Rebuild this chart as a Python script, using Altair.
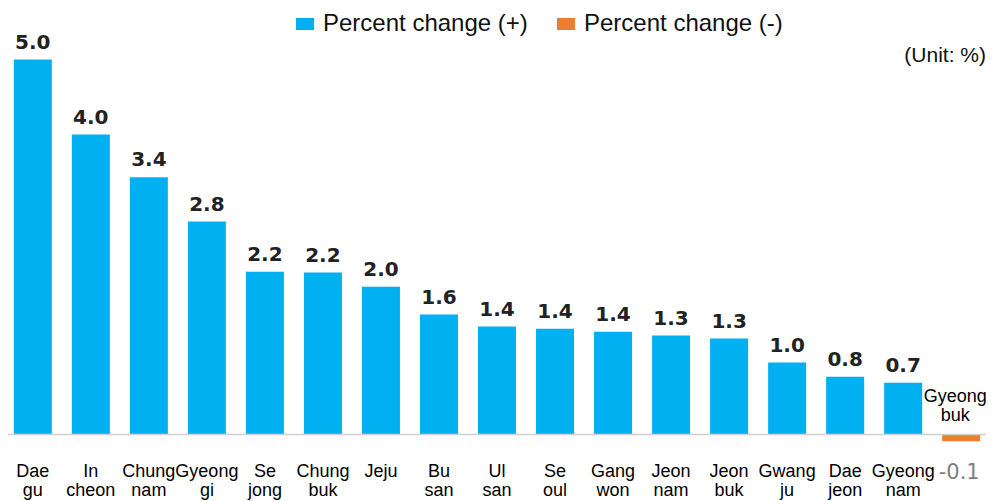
import altair as alt
import pandas as pd

# ---- data ----
regions = ["Dae\ngu", "In\ncheon", "Chung\nnam", "Gyeong\ngi", "Se\njong", "Chung\nbuk",
           "Jeju", "Bu\nsan", "Ul\nsan", "Se\noul", "Gang\nwon", "Jeon\nnam", "Jeon\nbuk",
           "Gwang\nju", "Dae\njeon", "Gyeong\nnam", "Gyeong\nbuk"]
values = [5.0, 4.0, 3.43, 2.84, 2.17, 2.16, 1.97, 1.60, 1.44, 1.41, 1.37, 1.32, 1.28,
          0.96, 0.77, 0.69, -0.09]
value_labels = ["5.0", "4.0", "3.4", "2.8", "2.2", "2.2", "2.0", "1.6", "1.4", "1.4", "1.4",
                "1.3", "1.3", "1.0", "0.8", "0.7", "-0.1"]
series_names = ["Percent change (+)", "Percent change (-)"]
series_colors = ["#00B0F0", "#ED7D31"]
unit_text = "(Unit: %)"

df = pd.DataFrame({
    "region": regions,
    "value": values,
    "label": value_labels,
    "series": [series_names[0] if v >= 0 else series_names[1] for v in values],
    "zero": [0.0] * len(values),
})

W, H = 978, 450
x_enc = alt.X("region:N", sort=regions, axis=None,
              scale=alt.Scale(paddingInner=0.345, paddingOuter=0.1))
y_scale = alt.Scale(domain=[-0.5, 5.5], nice=False, zero=False)

base = alt.Chart(df)

bars = base.mark_bar().encode(
    x=x_enc,
    y=alt.Y("value:Q", scale=y_scale, axis=None),
    y2="zero:Q",
    color=alt.Color("series:N",
                    scale=alt.Scale(domain=series_names, range=series_colors),
                    legend=alt.Legend(title=None, orient="none", legendX=285, legendY=-10,
                                      direction="horizontal",
                                      symbolType="M-1,-0.67H1V0.67H-1Z",
                                      symbolSize=324, symbolStrokeWidth=0,
                                      labelFont="Liberation Sans", labelFontSize=24,
                                      labelColor="#111111", labelOffset=6, labelLimit=0,
                                      columnPadding=26, padding=0)),
)

axis_line = base.mark_rule(color="#d0d0d0", strokeWidth=1.5).encode(
    x=alt.value(0), x2=alt.value(W), y=alt.Y("zero:Q", scale=y_scale)
).transform_filter("datum.value == 5.0")

pos_vals = base.transform_filter("datum.value >= 0").mark_text(
    font="DejaVu Sans", fontWeight="bold", fontSize=20, color="#222222",
    baseline="alphabetic", dy=-11
).encode(x=x_enc, y=alt.Y("value:Q", scale=y_scale), text="label:N")

neg_vals = base.transform_filter("datum.value < 0").mark_text(
    font="DejaVu Sans", fontSize=21, color="#7f7f7f",
    baseline="alphabetic", dy=38, dx=-2
).encode(x=x_enc, y=alt.Y("value:Q", scale=y_scale), text="label:N")

pos_names = base.transform_filter("datum.value >= 0").mark_text(
    font="Liberation Sans", fontSize=18, color="#000000", lineBreak="\n",
    lineHeight=19, baseline="alphabetic", dy=42
).encode(x=x_enc, y=alt.Y("zero:Q", scale=y_scale), text="region:N")

neg_names = base.transform_filter("datum.value < 0").mark_text(
    font="Liberation Sans", fontSize=18, color="#000000", lineBreak="\n",
    lineHeight=19, baseline="alphabetic", dy=-33, dx=-6
).encode(x=x_enc, y=alt.Y("zero:Q", scale=y_scale), text="region:N")

unit = alt.Chart(pd.DataFrame({"t": [unit_text]})).mark_text(
    font="Liberation Sans", fontSize=21, color="#111111", align="right",
    baseline="alphabetic"
).encode(x=alt.value(W), y=alt.value(40), text="t:N")

chart = alt.layer(bars, axis_line, pos_vals, neg_vals, pos_names, neg_names, unit).properties(
    width=W, height=H,
    autosize=alt.AutoSizeParams(type="none"),
    padding={"left": 0, "right": 0, "top": 14, "bottom": 29},
).configure_view(stroke=None)

chart.save("out.html", embed_options={"renderer": "svg", "actions": False})
